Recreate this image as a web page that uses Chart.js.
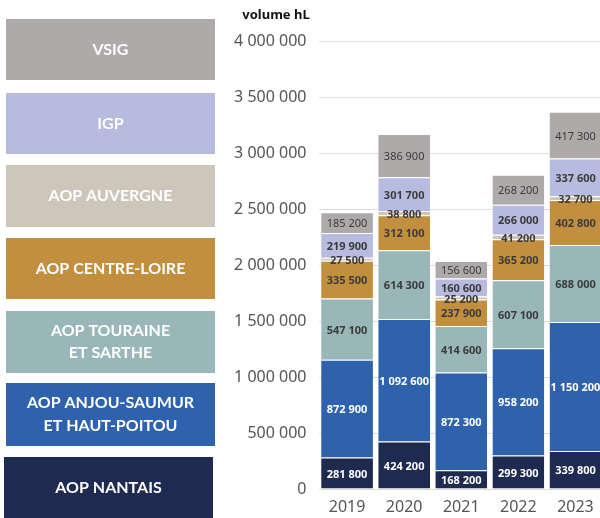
<!DOCTYPE html>
<html>
<head>
<meta charset="utf-8">
<script src="https://cdn.jsdelivr.net/npm/chart.js@4"></script>
<style>
  html, body { margin: 0; padding: 0; background: #fff; overflow: hidden; }
  #wrap { width: 604px; height: 518px; }
</style>
</head>
<body>
<div id="wrap"><canvas id="volChart" width="604" height="518"></canvas></div>
<script>
const years = ["2019", "2020", "2021", "2022", "2023"];

const nantais = [281800, 424200, 168200, 299300, 339800];
const anjouSaumur = [872900, 1092600, 872300, 958200, 1150200];
const touraineSarthe = [547100, 614300, 414600, 607100, 688000];
const centreLoire = [335500, 312100, 237900, 365200, 402800];
const auvergne = [27500, 38800, 25200, 41200, 32700];
const igp = [219900, 301700, 160600, 266000, 337600];
const vsig = [185200, 386900, 156600, 268200, 417300];

const yTicks = [0, 500000, 1000000, 1500000, 2000000, 2500000, 3000000, 3500000, 4000000];

// format 1234567 -> "1 234 567"
function fmt(v) {
  return String(v).replace(/\B(?=(\d{3})+(?!\d))/g, " ");
}

const series = [
  { label: "AOP NANTAIS", legend: ["AOP NANTAIS"], data: nantais, color: "#1e2a4f", text: "#ffffff", bold: true },
  { label: "AOP ANJOU-SAUMUR ET HAUT-POITOU", legend: ["AOP ANJOU-SAUMUR", "ET HAUT-POITOU"], data: anjouSaumur, color: "#2f62ad", text: "#ffffff", bold: true },
  { label: "AOP TOURAINE ET SARTHE", legend: ["AOP TOURAINE", "ET SARTHE"], data: touraineSarthe, color: "#99b6b8", text: "#3b3b3b", bold: true },
  { label: "AOP CENTRE-LOIRE", legend: ["AOP CENTRE-LOIRE"], data: centreLoire, color: "#c28f3f", text: "#3b3b3b", bold: true },
  { label: "AOP AUVERGNE", legend: ["AOP AUVERGNE"], data: auvergne, color: "#cdc7bb", text: "#3b3b3b", bold: true },
  { label: "IGP", legend: ["IGP"], data: igp, color: "#b8bbe0", text: "#3b3b3b", bold: true },
  { label: "VSIG", legend: ["VSIG"], data: vsig, color: "#adaaa9", text: "#3b3b3b", bold: false }
];

// legend boxes on the left, top to bottom: [x, y, w, h]
const legendBoxes = {
  "VSIG": [6, 19, 209, 61],
  "IGP": [6, 93, 209, 61],
  "AOP AUVERGNE": [6, 165, 209, 62],
  "AOP CENTRE-LOIRE": [6, 238, 209, 61],
  "AOP TOURAINE ET SARTHE": [6, 311, 209, 62],
  "AOP ANJOU-SAUMUR ET HAUT-POITOU": [6, 383, 209, 63],
  "AOP NANTAIS": [4, 457, 209, 61]
};

const extras = {
  id: "extras",
  afterDatasetsDraw(chart) {
    const ctx = chart.ctx;
    ctx.save();
    ctx.textAlign = "center";
    ctx.textBaseline = "middle";
    chart.data.datasets.forEach((ds, i) => {
      const meta = chart.getDatasetMeta(i);
      const s = series[i];
      ctx.fillStyle = s.text;
      ctx.font = (s.bold ? "bold " : "") + "11px 'Noto Sans'";
      meta.data.forEach((bar, j) => {
        const y = (bar.y + bar.base) / 2 + 1.5;
        ctx.fillText(fmt(ds.data[j]), bar.x, y);
      });
    });
    ctx.restore();
  },
  afterDraw(chart) {
    const ctx = chart.ctx;
    ctx.save();
    // legend
    series.forEach(s => {
      const b = legendBoxes[s.label];
      ctx.fillStyle = s.color;
      ctx.fillRect(b[0], b[1], b[2], b[3]);
      ctx.fillStyle = "#ffffff";
      ctx.font = "bold 16px Lato";
      ctx.textAlign = "center";
      ctx.textBaseline = "middle";
      const cx = b[0] + b[2] / 2;
      const cy = b[1] + b[3] / 2;
      const n = s.legend.length;
      s.legend.forEach((line, k) => {
        ctx.fillText(line, cx, cy + (k - (n - 1) / 2) * 22.5);
      });
    });
    // axis title
    ctx.fillStyle = "#111111";
    ctx.font = "bold 13px 'Noto Sans'";
    ctx.textAlign = "center";
    ctx.textBaseline = "middle";
    ctx.fillText("volume hL", 276, 15);
    ctx.restore();
  }
};

new Chart(document.getElementById("volChart").getContext("2d"), {
  type: "bar",
  data: {
    labels: years,
    datasets: series.map(s => ({
      label: s.label,
      data: s.data,
      backgroundColor: s.color,
      borderColor: "rgba(255,255,255,0.7)",
      borderWidth: { top: 1, left: 0, right: 0, bottom: 0 },
      borderSkipped: false,
      categoryPercentage: 1,
      barPercentage: 0.907
    }))
  },
  options: {
    responsive: false,
    animation: false,
    layout: { padding: { left: 226, top: 41, right: 0, bottom: 0 } },
    plugins: {
      legend: { display: false },
      tooltip: { enabled: false }
    },
    scales: {
      x: {
        stacked: true,
        afterFit(scale) {
          scale.height = 29;
        },
        grid: { display: false, drawTicks: false },
        border: { display: false },
        ticks: { color: "#555555", font: { family: "'Noto Sans'", size: 16 }, padding: 9 }
      },
      y: {
        stacked: true,
        min: 0,
        max: 4000000,
        afterBuildTicks(scale) {
          scale.ticks = yTicks.map(v => ({ value: v }));
        },
        afterFit(scale) {
          scale.width = 92.5;
        },
        grid: { color: "#dddddd", lineWidth: 1, drawTicks: false },
        border: { display: false },
        ticks: {
          color: "#555555",
          font: { family: "'Noto Sans'", size: 16 },
          padding: 12,
          callback: v => fmt(v)
        }
      }
    }
  },
  plugins: [extras]
});
</script>
</body>
</html>
